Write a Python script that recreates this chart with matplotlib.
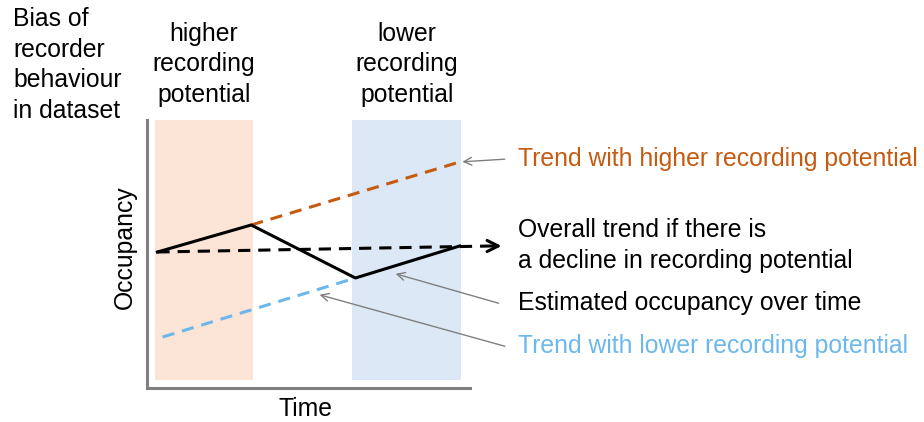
import matplotlib.pyplot as plt

plt.rcParams['font.family'] = ['Liberation Sans', 'DejaVu Sans']

# time points: start, end of high-recording period, start of low-recording period, end
time_points = [0.0, 0.9, 1.9, 2.9]
estimated_occupancy = [1.36, 1.63, 1.10, 1.42]

high_trend_t = [0.9, 2.9]
high_trend_occ = [1.63, 2.26]

low_trend_t = [0.05, 1.9]
low_trend_occ = [0.51, 1.10]

overall_t = [0.0, 3.2]
overall_occ = [1.36, 1.42]

high_period = (-0.02, 0.92)
low_period = (1.87, 2.91)

orange = '#C55A11'
blue = '#6CB8EC'
grey = '#808080'

fig = plt.figure(figsize=(9.24, 4.22), dpi=100)
W, H = 924, 422
ax = fig.add_axes([147 / W, 1 - 388 / H, (470 - 147) / W, (388 - 120) / H])
ax.set_xlim(-0.1, 3.0)
ax.set_ylim(0, 2.68)

ax.axvspan(*high_period, ymin=0.03, ymax=1, color='#FCE4D6', lw=0, zorder=0)
ax.axvspan(*low_period, ymin=0.03, ymax=1, color='#DCE8F5', lw=0, zorder=0)

ax.plot(time_points, estimated_occupancy, color='black', lw=2.2, zorder=4)
ax.plot(high_trend_t, high_trend_occ, color=orange, lw=2.2, ls=(0, (4, 2.6)), zorder=3)
ax.plot(low_trend_t, low_trend_occ, color=blue, lw=2.2, ls=(0, (4, 2.6)), zorder=3)
ax.plot(overall_t, overall_occ, color='black', lw=2.2, ls=(0, (4, 2.6)), clip_on=False, zorder=3)
ax.annotate('', xy=(3.33, overall_occ[1]), xytext=(3.18, overall_occ[1]),
            arrowprops=dict(arrowstyle='->', color='black', lw=2.2, mutation_scale=20),
            annotation_clip=False)

for s in ['top', 'right']:
    ax.spines[s].set_visible(False)
for s in ['left', 'bottom']:
    ax.spines[s].set_color(grey)
    ax.spines[s].set_linewidth(2.2)
ax.set_xticks([])
ax.set_yticks([])

fs = 17.8
ls = 1.35
ax.set_xlabel('Time', fontsize=fs)
ax.set_ylabel('Occupancy', fontsize=fs)
ax.xaxis.set_label_coords(0.49, -0.035)
ax.yaxis.set_label_coords(-0.031, 0.526)

# va='baseline' aligns the last line's baseline
tx = 3.464
ax.text(tx, 2.22, 'Trend with higher recording potential', color=orange, fontsize=fs,
        va='baseline', clip_on=False)
ax.text(tx, 1.20, 'Overall trend if there is\na decline in recording potential', color='black',
        fontsize=fs, va='baseline', linespacing=ls, clip_on=False)
ax.text(tx, 0.78, 'Estimated occupancy over time', color='black', fontsize=fs,
        va='baseline', clip_on=False)
ax.text(tx, 0.35, 'Trend with lower recording potential', color=blue, fontsize=fs,
        va='baseline', clip_on=False)

arrow_kw = dict(arrowstyle='->', color=grey, lw=1, mutation_scale=14)
ax.annotate('', xy=(high_trend_t[1], high_trend_occ[1]), xytext=(3.36, 2.29),
            arrowprops=arrow_kw, annotation_clip=False)
ax.annotate('', xy=(2.26, 1.15), xytext=(3.30, 0.84),
            arrowprops=arrow_kw, annotation_clip=False)
ax.annotate('', xy=(1.53, 0.94), xytext=(3.36, 0.41),
            arrowprops=arrow_kw, annotation_clip=False)

fig.text(13 / W, 1 - 118 / H, 'Bias of\nrecorder\nbehaviour\nin dataset', fontsize=fs,
         va='baseline', ha='left', linespacing=ls)
fig.text(204 / W, 1 - 102 / H, 'higher\nrecording\npotential', fontsize=fs,
         va='baseline', ha='center', linespacing=ls)
fig.text(407 / W, 1 - 102 / H, 'lower\nrecording\npotential', fontsize=fs,
         va='baseline', ha='center', linespacing=ls)

fig.savefig('out.png', dpi=100)
